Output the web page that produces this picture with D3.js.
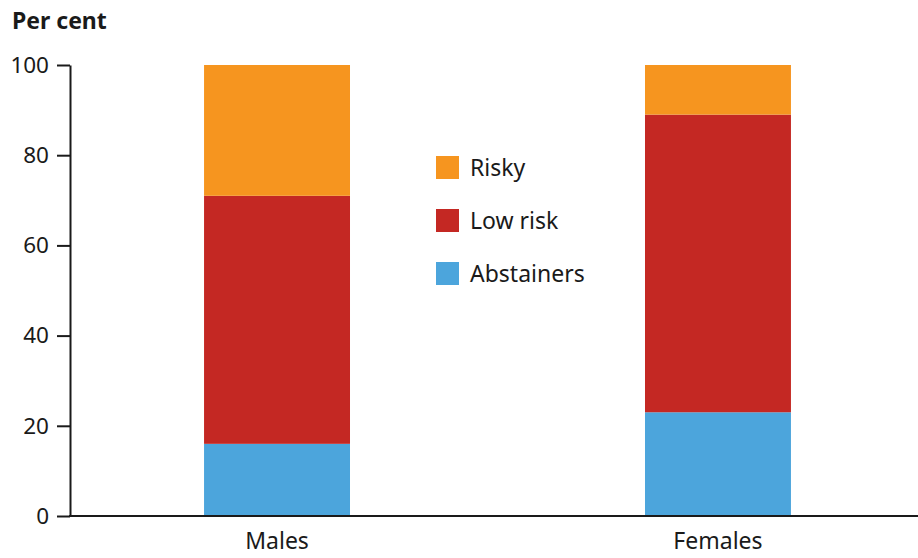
<!DOCTYPE html>
<html>
<head>
<meta charset="utf-8">
<script src="https://cdn.jsdelivr.net/npm/d3@7"></script>
<style>
  body { margin: 0; background: #fff; }
  svg { display: block; font-family: "Noto Sans", "Open Sans", sans-serif; }
</style>
</head>
<body>
<svg id="chart" width="918" height="558"></svg>
<script>
const categories = ["Males", "Females"];
const seriesNames = ["Abstainers", "Low risk", "Risky"];
const abstainers = [16, 23];
const lowRisk = [55, 66];
const risky = [29, 11];
const yTicks = [0, 20, 40, 60, 80, 100];
const colors = ["#4CA5DC", "#C42823", "#F6951F"];
const legendOrder = ["Risky", "Low risk", "Abstainers"];

const svg = d3.select("#chart");
const x = d3.scaleBand().domain(categories).range([70, 925]).paddingInner(0.669).paddingOuter(0.304);
const y = d3.scaleLinear().domain([0, 100]).range([516, 65]);
const color = d3.scaleOrdinal().domain(seriesNames).range(colors);

const rows = categories.map((c, i) => ({cat: c, "Abstainers": abstainers[i], "Low risk": lowRisk[i], "Risky": risky[i]}));
const stacked = d3.stack().keys(seriesNames)(rows);

svg.append("g").selectAll("g").data(stacked).join("g")
  .attr("fill", d => color(d.key))
  .selectAll("rect").data(d => d).join("rect")
  .attr("x", d => x(d.data.cat))
  .attr("width", x.bandwidth())
  .attr("y", d => y(d[1]))
  .attr("height", d => y(d[0]) - y(d[1]));

// Y axis
const yAxis = svg.append("g").attr("transform", "translate(70,0)")
  .call(d3.axisLeft(y).tickValues(yTicks).tickSize(13).tickSizeOuter(0).tickPadding(8));
yAxis.select(".domain").attr("stroke", "#1a1a1a").attr("stroke-width", 2);
yAxis.selectAll(".tick line").attr("stroke", "#1a1a1a").attr("stroke-width", 2);
yAxis.selectAll(".tick text").attr("font-size", 22.5).attr("fill", "#1a1a1a")
  .attr("font-family", "'Noto Sans', sans-serif");

// X axis
const xAxis = svg.append("g").attr("transform", "translate(0,516)")
  .call(d3.axisBottom(x).tickSize(0).tickPadding(17));
xAxis.select(".domain").remove();
xAxis.append("line").attr("x1", 69).attr("x2", 918).attr("y1", 0).attr("y2", 0)
  .attr("stroke", "#1a1a1a").attr("stroke-width", 2);
xAxis.selectAll(".tick text").attr("font-size", 23).attr("fill", "#1a1a1a")
  .attr("font-family", "'Noto Sans', sans-serif");

// Y title
svg.append("text").attr("x", 12).attr("y", 29).text("Per cent")
  .attr("font-size", 23).attr("font-weight", "bold").attr("fill", "#1a1a1a");

// Legend
const legend = svg.append("g").attr("transform", "translate(436,156)");
const li = legend.selectAll("g").data(legendOrder).join("g")
  .attr("transform", (d, i) => `translate(0,${i * 53})`);
li.append("rect").attr("width", 23).attr("height", 23).attr("fill", d => color(d));
li.append("text").attr("x", 34).attr("y", 20).text(d => d)
  .attr("font-size", 23).attr("fill", "#1a1a1a");
</script>
</body>
</html>
